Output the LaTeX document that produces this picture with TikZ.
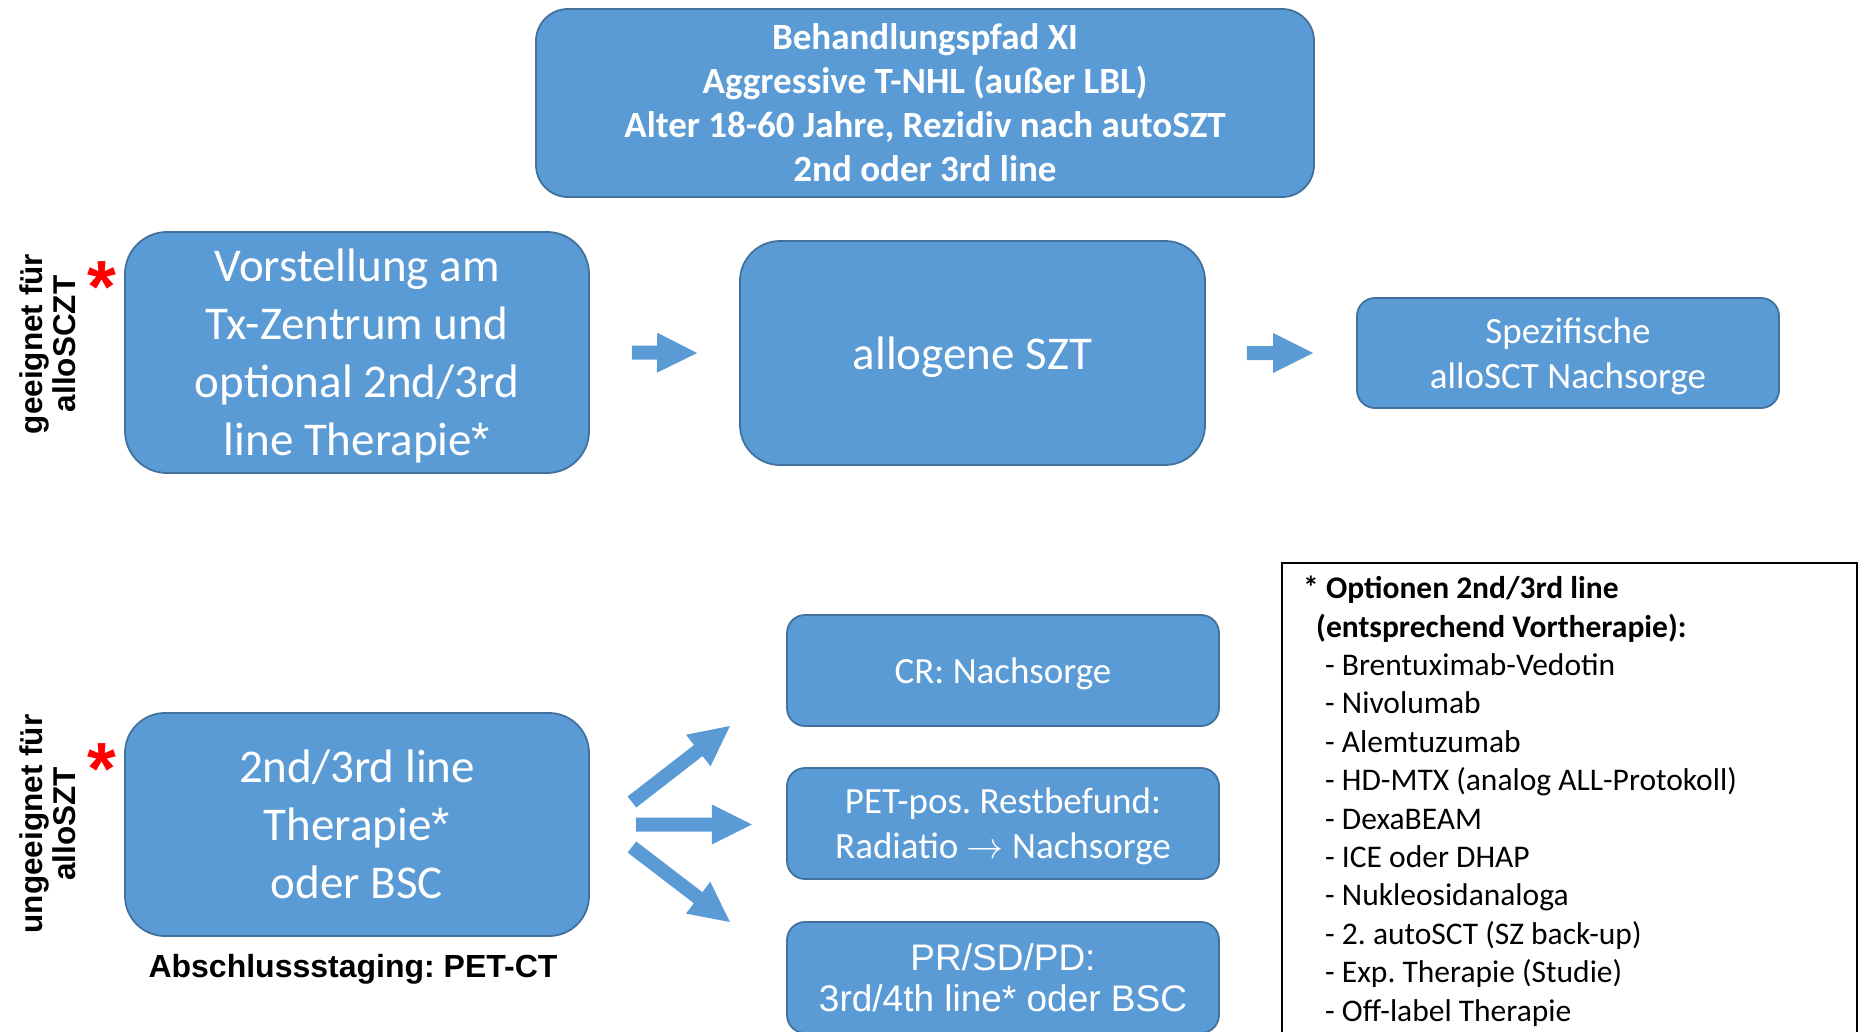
\RequirePackage{fix-cm}
\documentclass[tikz,border=0pt]{standalone}
\usepackage{fontspec}
\setmainfont{Carlito}
\newfontfamily\arialfont{Liberation Sans}
\usetikzlibrary{calc}
\definecolor{boxfill}{HTML}{5B9BD5}
\definecolor{boxedge}{HTML}{41719C}
\frenchspacing

% footnote marker in the large box texts
\newcommand\starmark{{\arialfont *}}

% thick block arrow from #1 (tail) to #2 (tip)
\newcommand\fatarrow[2]{%
  \fill[arrowfill] let \p3=($(#2)!40pt!(#1)$) in
    ($(#1)!7pt!-90:(#2)$) -- ($(\p3)!7pt!-90:(#2)$) -- ($(\p3)!20pt!-90:(#2)$)
    -- (#2) -- ($(\p3)!20pt!90:(#2)$) -- ($(\p3)!7pt!90:(#2)$)
    -- ($(#1)!7pt!90:(#2)$) -- cycle;}

\begin{document}
\begin{tikzpicture}[x=1pt,y=-1pt,
  box/.style={draw=boxedge, line width=1.8pt, fill=boxfill, text=white,
    align=center, inner sep=0pt, text depth=0pt},
  bigtext/.style={font=\fontsize{47}{58}\selectfont},
  midtext/.style={font=\fontsize{37}{45}\selectfont},
  sidelabel/.style={font=\arialfont\bfseries\fontsize{31.5}{33}\selectfont,
    align=center, inner sep=0pt, rotate=90},
  redstar/.style={font=\arialfont\bfseries\fontsize{74}{74}\selectfont,
    text=red, inner sep=0pt, anchor=base},
  arrowfill/.style={fill=boxfill}]
\useasboundingbox (0,0) rectangle (1863,1031);
\clip (0,0) rectangle (1863,1031);

% title
\node[box, rounded corners=32pt, minimum width=778pt, minimum height=188pt,
  font=\bfseries\fontsize{37}{44}\selectfont] (title) at (925,103)
  {Behandlungspfad XI\\Aggressive T-NHL (außer LBL)\\
   Alter 18-60 Jahre, Rezidiv nach autoSZT\\2nd oder 3rd line};

% upper row: suitable for allo-SCT
\node[sidelabel] (lblfit) at (48,344) {geeignet für\\alloSCZT};
\node[redstar] (starfit) at (102,312) {*};
\node[box, bigtext, rounded corners=42pt, minimum width=464pt, minimum height=241pt]
  (vor) at (357,352.5)
  {Vorstellung am\\Tx-Zentrum und\\optional 2nd/3rd\\line Therapie\starmark};
\node[box, bigtext, rounded corners=40pt, minimum width=465pt, minimum height=224pt]
  (allo) at (972.5,353) {allogene SZT};
\node[box, midtext, rounded corners=18pt, minimum width=422pt, minimum height=110pt]
  (spez) at (1568,353) {Spezifische\\alloSCT Nachsorge};

\coordinate (a1s) at ($(vor.east)+(42,0)$);
\coordinate (a1e) at ($(allo.west)+(-42,0)$);
\coordinate (a2s) at ($(allo.east)+(41,0)$);
\coordinate (a2e) at ($(spez.west)+(-43,0)$);
\fatarrow{a1s}{a1e}
\fatarrow{a2s}{a2e}

% lower row: not suitable for allo-SCT
\node[sidelabel] (lblunfit) at (48,824) {ungeeignet für\\alloSZT};
\node[redstar] (starunfit) at (102,794) {*};
\node[box, bigtext, rounded corners=40pt, minimum width=464pt, minimum height=223pt]
  (bsc) at (357,824.5) {2nd/3rd line\\Therapie\starmark\\oder BSC};
\node[font=\arialfont\bfseries\fontsize{32}{38}\selectfont, inner sep=0pt]
  (staging) at (353,969) {Abschlussstaging: PET-CT};

\node[box, midtext, rounded corners=18pt, minimum width=432pt, minimum height=111pt]
  (cr) at (1003,670.5) {CR: Nachsorge};
\node[box, midtext, rounded corners=18pt, minimum width=432pt, minimum height=111pt]
  (pet) at (1003,823.5) {PET-pos. Restbefund:\\Radiatio $\rightarrow$ Nachsorge};
\node[box, font=\arialfont\fontsize{37}{41}\selectfont, rounded corners=18pt,
  minimum width=432pt, minimum height=111pt, text depth=-5pt]
  (prsd) at (1003,977.5) {PR/SD/PD:\\3rd/4th line* oder BSC};

\coordinate (b1s) at ($(bsc.east)+(42,-22.5)$);
\coordinate (b1e) at ($(bsc.east)+(140,-98.5)$);
\coordinate (b2s) at ($(bsc.east)+(46,0)$);
\coordinate (b2e) at ($(bsc.east)+(162,0)$);
\coordinate (b3s) at ($(bsc.east)+(42,22.5)$);
\coordinate (b3e) at ($(bsc.east)+(140,97.5)$);
\fatarrow{b1s}{b1e}
\fatarrow{b2s}{b2e}
\fatarrow{b3s}{b3e}

% footnote box with the treatment options
\draw[line width=1.5pt, black] (1282,563) rectangle (1857,1060);
\node[anchor=north west, align=left, inner sep=0pt,
  font=\fontsize{31.5}{38.4}\selectfont] (opts) at (1303,576)
  {\textbf{* Optionen 2nd/3rd line}\\
   \hspace*{13pt}\textbf{(entsprechend Vortherapie):}\\
   \hspace*{22pt}- Brentuximab-Vedotin\\
   \hspace*{22pt}- Nivolumab\\
   \hspace*{22pt}- Alemtuzumab\\
   \hspace*{22pt}- HD-MTX (analog ALL-Protokoll)\\
   \hspace*{22pt}- DexaBEAM\\
   \hspace*{22pt}- ICE oder DHAP\\
   \hspace*{22pt}- Nukleosidanaloga\\
   \hspace*{22pt}- 2. autoSCT (SZ back-up)\\
   \hspace*{22pt}- Exp. Therapie (Studie)\\
   \hspace*{22pt}- Off-label Therapie};
\end{tikzpicture}
\end{document}
